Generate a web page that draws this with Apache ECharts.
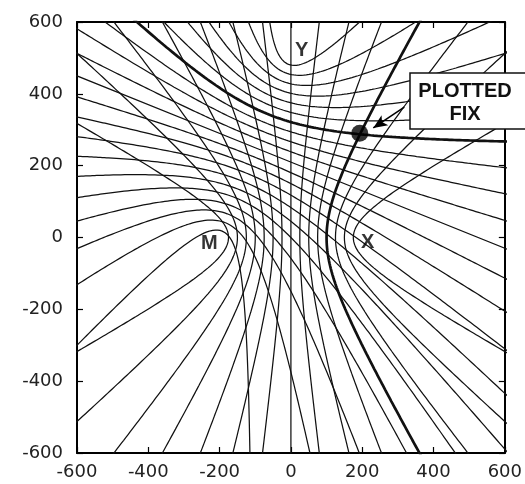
<!DOCTYPE html>
<html>
<head>
<meta charset="utf-8">
<script src="https://cdn.jsdelivr.net/npm/echarts@6/dist/echarts.min.js"></script>
<style>html,body{margin:0;padding:0;background:#fff}#c{width:525px;height:484px}</style>
</head>
<body>
<div id="c"></div>
<script>
// Station positions
const stationM = [-200, 0];
const stationX = [200, 0];
const stationY = [0, 500];
// Range differences (dM - dSecondary) of the drawn lines of position
const mxDiffs = [-350, -300, -250, -200, -150, -100, -50, 0, 50, 100, 150, 200, 250, 300, 350];
const myDiffs = [-500, -450, -400, -350, -300, -250, -200, -150, -100, -50, 0, 50, 100, 150, 200, 250, 300, 350, 400, 450, 500];
const boldMX = 200;
const boldMY = 200;
// Labels and fix
const stationLabels = [
  { name: 'M', pos: [-229, -16] },
  { name: 'X', pos: [215, -15] },
  { name: 'Y', pos: [30, 522] }
];
const fixPoint = [193, 290];
const arrowFrom = [318, 363];
const arrowTo = [231, 305];

function hyperbola(f1, f2, k) {
  const cx = (f1[0] + f2[0]) / 2, cy = (f1[1] + f2[1]) / 2;
  const dx = f2[0] - f1[0], dy = f2[1] - f1[1];
  const c = Math.hypot(dx, dy) / 2;
  const ux = dx / (2 * c), uy = dy / (2 * c);
  const vx = -uy, vy = ux;
  const pts = [];
  if (k === 0) {
    for (let i = 0; i <= 2; i++) {
      const t = -2500 + 2500 * i;
      pts.push([cx + t * vx, cy + t * vy]);
    }
    return pts;
  }
  const a = Math.abs(k) / 2, sg = Math.sign(k);
  const b = Math.sqrt(c * c - a * a);
  const T = Math.asinh(2500 / b);
  const N = 500;
  for (let i = 0; i <= N; i++) {
    const tau = -T + 2 * T * i / N;
    const s = sg * a * Math.cosh(tau), t = b * Math.sinh(tau);
    pts.push([cx + s * ux + t * vx, cy + s * uy + t * vy]);
  }
  return pts;
}

const series = [];
mxDiffs.forEach(k => {
  series.push({
    type: 'line', data: hyperbola(stationM, stationX, k), showSymbol: false, silent: true,
    lineStyle: { color: '#111', width: k === boldMX ? 2.7 : 1.25 }, clip: true, z: k === boldMX ? 3 : 2
  });
});
myDiffs.forEach(k => {
  series.push({
    type: 'line', data: hyperbola(stationM, stationY, k), showSymbol: false, silent: true,
    lineStyle: { color: '#111', width: k === boldMY ? 2.7 : 1.25 }, clip: true, z: k === boldMY ? 3 : 2
  });
});
series.push({
  type: 'scatter', data: stationLabels.map(s => ({ value: s.pos, name: s.name })), symbolSize: 0, silent: true, z: 5,
  label: { show: true, position: 'inside', formatter: p => p.name, fontFamily: 'Liberation Sans', fontWeight: 'bold', fontSize: 20, color: '#000' }
});
series.push({
  type: 'scatter', data: [fixPoint], symbolSize: 17, itemStyle: { color: '#000' }, silent: true, z: 6,
  markLine: {
    silent: true, symbol: ['none', 'arrow'], symbolSize: [9, 14],
    lineStyle: { color: '#000', width: 1.6, type: 'solid' }, label: { show: false },
    data: [[{ coord: arrowFrom }, { coord: arrowTo }]]
  }
});

const axisCommon = {
  type: 'value', min: -600, max: 600, interval: 200,
  splitLine: { show: false },
  axisLine: { show: true, onZero: false, lineStyle: { color: '#000', width: 2 } },
  axisTick: { show: true, inside: true, length: 6, lineStyle: { color: '#000', width: 1.2 } }
};
const labelStyle = { fontFamily: 'DejaVu Sans', fontSize: 18, color: '#222' };

const chart = echarts.init(document.getElementById('c'), null, { renderer: 'canvas' });
chart.setOption({
  animation: false,
  grid: { left: 77, right: 14, top: 22, bottom: 31 },
  xAxis: [
    Object.assign({}, axisCommon, { position: 'bottom', axisLabel: Object.assign({ margin: 10 }, labelStyle) }),
    Object.assign({}, axisCommon, { position: 'top', axisLabel: { show: false } })
  ],
  yAxis: [
    Object.assign({}, axisCommon, { position: 'left', axisLabel: Object.assign({ margin: 14 }, labelStyle) }),
    Object.assign({}, axisCommon, { position: 'right', axisLabel: { show: false } })
  ],
  series: series,
  graphic: [
    { type: 'rect', shape: { x: 410, y: 73, width: 118, height: 56 }, style: { fill: '#fff', stroke: '#111', lineWidth: 1.5 }, z: 100 },
    { type: 'text', x: 465, y: 91, style: { text: 'PLOTTED', fontFamily: 'Liberation Sans', fontWeight: 'bold', fontSize: 20, fill: '#111', align: 'center', verticalAlign: 'middle' }, z: 101 },
    { type: 'text', x: 465, y: 114, style: { text: 'FIX', fontFamily: 'Liberation Sans', fontWeight: 'bold', fontSize: 20, fill: '#111', align: 'center', verticalAlign: 'middle' }, z: 101 }
  ]
});
</script>
</body>
</html>
